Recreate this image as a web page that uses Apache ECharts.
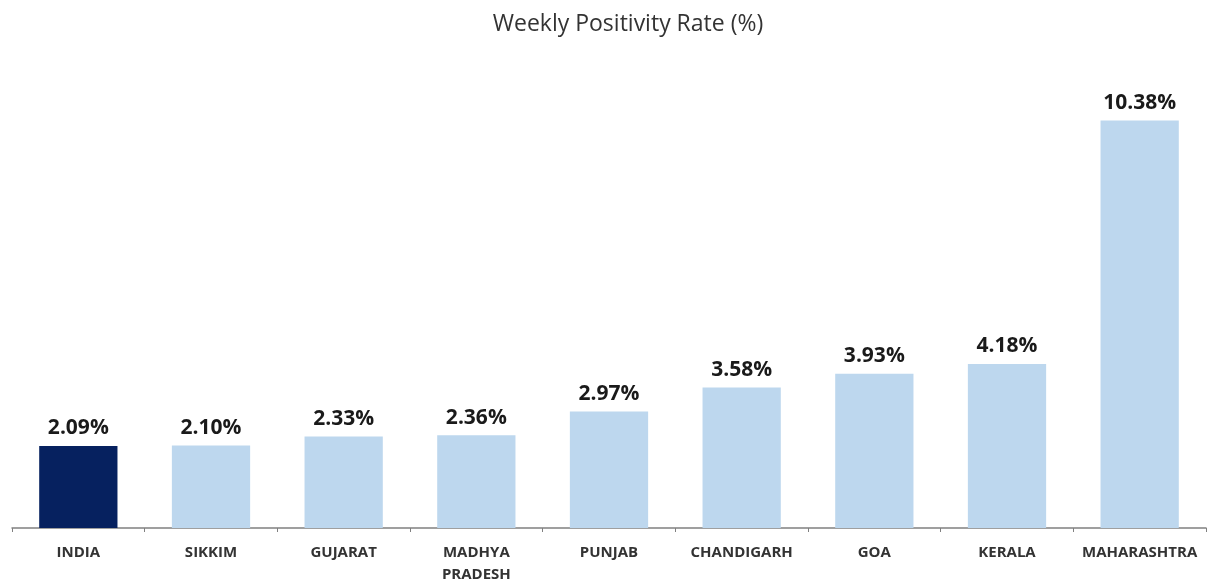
<!DOCTYPE html>
<html><head><meta charset="utf-8">
<script src="https://cdn.jsdelivr.net/npm/echarts@6/dist/echarts.min.js"></script>
<style>html,body{margin:0;padding:0;background:#fff}#c{width:1208px;height:583px}</style>
</head><body><div id="c"></div>
<script>
const categories = ["INDIA","SIKKIM","GUJARAT","MADHYA\nPRADESH","PUNJAB","CHANDIGARH","GOA","KERALA","MAHARASHTRA"];
const values = [2.09, 2.10, 2.33, 2.36, 2.97, 3.58, 3.93, 4.18, 10.38];
const highlight = "INDIA";
const chart = echarts.init(document.getElementById('c'));
chart.setOption({
  animation:false,
  title:{text:"Weekly Positivity Rate (%)", left:623, textAlign:"center", top:8,
    textStyle:{fontFamily:"Open Sans", fontWeight:"normal", fontSize:23, color:"#333"}},
  grid:{left:12, right:2, top:57, bottom:55, containLabel:false, outerBoundsMode:"none"},
  xAxis:{type:"category", data:categories,
    axisLine:{lineStyle:{color:"#808080", width:1.5}},
    axisTick:{show:true, length:4, lineStyle:{color:"#808080"}},
    axisLabel:{fontFamily:"Open Sans", fontWeight:"bold", fontSize:15, color:"#333", margin:14, lineHeight:22, interval:0}},
  yAxis:{type:"value", min:0, max:12, show:false, splitLine:{show:false}},
  series:[{type:"bar", barWidth:"59%",
    data: values.map((v,i)=>({value:v, itemStyle:{color: categories[i]===highlight ? "#06215f" : "#bdd7ee"}})),
    label:{show:true, position:"top", distance:7, formatter:p=>p.value.toFixed(2)+"%",
      fontFamily:"Open Sans", fontWeight:"bold", fontSize:21, color:"#1a1a1a"}}]
});
</script></body></html>
